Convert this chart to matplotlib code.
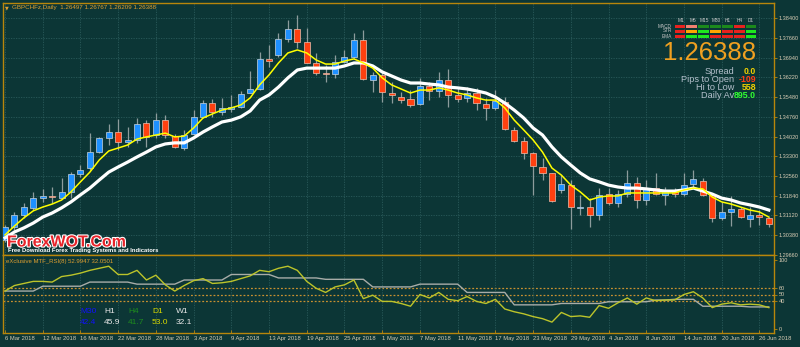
import matplotlib
matplotlib.use("Agg")
import matplotlib.pyplot as plt
import matplotlib.patheffects as pe
from matplotlib.patches import Rectangle
import numpy as np

plt.rcParams['font.family'] = ['Liberation Sans', 'DejaVu Sans']

W, H = 800, 347
BG = '#0c3636'
FRAME = '#b8860b'
GRID = '#2a5a5a'
TXT = '#d8ccb4'
BULL = '#1e90ff'
BEAR = '#ff4010'
EDGE = '#c8d4dc'
WICK = '#8c9c9c'

# daily candles GBPCHF, 6 Mar .. 27 Jun 2018
opens = [1.3020, 1.3068, 1.3113, 1.3139, 1.3175, 1.3183, 1.3175, 1.3198, 1.3264, 1.3286,
         1.3345, 1.3397, 1.3419, 1.3382, 1.3390, 1.3452, 1.3408, 1.3463, 1.3404, 1.3360,
         1.3412, 1.3475, 1.3526, 1.3493, 1.3504, 1.3511, 1.3563, 1.3578, 1.3689, 1.3703,
         1.3763, 1.3799, 1.3751, 1.3674, 1.3637, 1.3633, 1.3678, 1.3696, 1.3759, 1.3611,
         1.3630, 1.3563, 1.3548, 1.3541, 1.3522, 1.3589, 1.3571, 1.3611, 1.3556, 1.3545,
         1.3563, 1.3522, 1.3508, 1.3530, 1.3426, 1.3386, 1.3342, 1.3290, 1.3268, 1.3205,
         1.3223, 1.3139, 1.3142, 1.3113, 1.3190, 1.3157, 1.3190, 1.3231, 1.3168, 1.3212,
         1.3187, 1.3201, 1.3190, 1.3227, 1.3238, 1.3187, 1.3102, 1.3124, 1.3135, 1.3098,
         1.3113, 1.3102]
highs = [1.3076, 1.3124, 1.3157, 1.3198, 1.3209, 1.3216, 1.3249, 1.3271, 1.3297, 1.3415,
         1.3401, 1.3449, 1.3467, 1.3438, 1.3471, 1.3463, 1.3489, 1.3482, 1.3412, 1.3427,
         1.3500, 1.3537, 1.3541, 1.3545, 1.3556, 1.3570, 1.3644, 1.3715, 1.3740, 1.3785,
         1.3833, 1.3851, 1.3803, 1.3711, 1.3667, 1.3704, 1.3722, 1.3785, 1.3796, 1.3641,
         1.3641, 1.3604, 1.3567, 1.3574, 1.3618, 1.3604, 1.3641, 1.3652, 1.3582, 1.3585,
         1.3582, 1.3545, 1.3574, 1.3548, 1.3438, 1.3401, 1.3345, 1.3323, 1.3268, 1.3260,
         1.3242, 1.3187, 1.3175, 1.3212, 1.3212, 1.3205, 1.3279, 1.3253, 1.3242, 1.3268,
         1.3216, 1.3212, 1.3268, 1.3279, 1.3249, 1.3187, 1.3161, 1.3183, 1.3142, 1.3142,
         1.3131, 1.3105]
lows = [1.3013, 1.3057, 1.3102, 1.3131, 1.3161, 1.3157, 1.3172, 1.3175, 1.3253, 1.3279,
        1.3342, 1.3371, 1.3353, 1.3364, 1.3379, 1.3364, 1.3397, 1.3397, 1.3360, 1.3353,
        1.3408, 1.3471, 1.3475, 1.3482, 1.3493, 1.3508, 1.3563, 1.3574, 1.3659, 1.3696,
        1.3751, 1.3729, 1.3674, 1.3630, 1.3604, 1.3619, 1.3674, 1.3692, 1.3611, 1.3567,
        1.3530, 1.3526, 1.3526, 1.3511, 1.3519, 1.3537, 1.3548, 1.3511, 1.3530, 1.3530,
        1.3500, 1.3463, 1.3500, 1.3426, 1.3382, 1.3319, 1.3187, 1.3242, 1.3161, 1.3194,
        1.3061, 1.3113, 1.3068, 1.3094, 1.3150, 1.3142, 1.3179, 1.3139, 1.3150, 1.3187,
        1.3150, 1.3179, 1.3183, 1.3216, 1.3183, 1.3087, 1.3094, 1.3072, 1.3102, 1.3068,
        1.3076, 1.3068]
closes = [1.3068, 1.3113, 1.3142, 1.3175, 1.3183, 1.3179, 1.3198, 1.3264, 1.3279, 1.3345,
          1.3397, 1.3419, 1.3382, 1.3390, 1.3449, 1.3401, 1.3463, 1.3408, 1.3364, 1.3408,
          1.3475, 1.3526, 1.3493, 1.3508, 1.3511, 1.3559, 1.3578, 1.3689, 1.3681, 1.3763,
          1.3799, 1.3751, 1.3674, 1.3637, 1.3633, 1.3678, 1.3696, 1.3759, 1.3615, 1.3630,
          1.3567, 1.3556, 1.3537, 1.3519, 1.3589, 1.3571, 1.3611, 1.3556, 1.3541, 1.3563,
          1.3526, 1.3508, 1.3534, 1.3430, 1.3386, 1.3342, 1.3294, 1.3268, 1.3164, 1.3227,
          1.3142, 1.3142, 1.3113, 1.3187, 1.3157, 1.3190, 1.3231, 1.3168, 1.3212, 1.3190,
          1.3201, 1.3190, 1.3223, 1.3246, 1.3187, 1.3102, 1.3124, 1.3135, 1.3105, 1.3113,
          1.3105, 1.3079]

# moving averages as drawn on the chart
ma_fast = [1.3039, 1.3072, 1.3102, 1.3128, 1.3142, 1.3153, 1.3168, 1.3198, 1.3235, 1.3271,
           1.3316, 1.3349, 1.3360, 1.3371, 1.3393, 1.3401, 1.3408, 1.3415, 1.3401, 1.3404,
           1.3434, 1.3471, 1.3486, 1.3500, 1.3508, 1.3519, 1.3545, 1.3593, 1.3630, 1.3674,
           1.3711, 1.3722, 1.3711, 1.3685, 1.3670, 1.3670, 1.3681, 1.3689, 1.3674, 1.3655,
           1.3619, 1.3593, 1.3578, 1.3563, 1.3574, 1.3574, 1.3582, 1.3574, 1.3563, 1.3556,
           1.3545, 1.3537, 1.3537, 1.3508, 1.3463, 1.3427, 1.3390, 1.3345, 1.3286, 1.3260,
           1.3223, 1.3198, 1.3168, 1.3179, 1.3183, 1.3183, 1.3194, 1.3194, 1.3194, 1.3194,
           1.3194, 1.3194, 1.3205, 1.3212, 1.3209, 1.3179, 1.3161, 1.3153, 1.3142, 1.3131,
           1.3124, 1.3105]
ma_slow = [1.3028, 1.3050, 1.3065, 1.3083, 1.3105, 1.3120, 1.3139, 1.3161, 1.3187, 1.3212,
           1.3242, 1.3271, 1.3290, 1.3308, 1.3327, 1.3345, 1.3364, 1.3375, 1.3379, 1.3379,
           1.3397, 1.3419, 1.3438, 1.3456, 1.3463, 1.3475, 1.3497, 1.3537, 1.3556, 1.3585,
           1.3619, 1.3648, 1.3655, 1.3655, 1.3655, 1.3655, 1.3663, 1.3674, 1.3674, 1.3663,
           1.3641, 1.3626, 1.3611, 1.3600, 1.3600, 1.3596, 1.3593, 1.3585, 1.3582, 1.3578,
           1.3571, 1.3563, 1.3548, 1.3526, 1.3500, 1.3471, 1.3434, 1.3408, 1.3364, 1.3327,
           1.3297, 1.3268, 1.3246, 1.3235, 1.3223, 1.3216, 1.3212, 1.3212, 1.3209, 1.3205,
           1.3201, 1.3201, 1.3205, 1.3212, 1.3201, 1.3190, 1.3175, 1.3168, 1.3157, 1.3150,
           1.3142, 1.3131]

# MTF RSI(8): daily and weekly lines
rsi_d1 = [55, 63, 66, 69, 69, 68, 76, 78, 81, 85,
          88, 91, 79, 79, 85, 71, 78, 64, 55, 63,
          70, 73, 66, 67, 69, 73, 77, 85, 83, 88,
          91, 85, 69, 59, 53, 61, 64, 71, 44, 49,
          40, 40, 37, 33, 50, 45, 53, 43, 41, 47,
          40, 37, 43, 29, 25, 22, 18, 15, 10, 24,
          18, 19, 17, 34, 30, 38, 45, 36, 45, 41,
          42, 42, 50, 54, 45, 31, 36, 38, 35, 36,
          35, 31]
rsi_w1 = [55, 55, 55, 55, 62, 62, 62, 62, 62, 68,
          68, 68, 68, 68, 65, 65, 65, 65, 65, 71,
          71, 71, 71, 71, 79, 79, 79, 79, 79, 74,
          74, 74, 74, 74, 72, 72, 72, 72, 72, 61,
          61, 61, 61, 61, 65, 65, 65, 65, 65, 53,
          53, 53, 53, 53, 35, 35, 35, 35, 35, 37,
          37, 37, 37, 37, 39.5, 39.5, 39.5, 39.5, 39.5, 42,
          42, 43, 43, 43, 33, 33, 33, 33, 33, 32,
          32, 32]
rsi_levels = [60, 50, 40]
rsi_ticks = [0, 40, 50, 60, 100]

date_labels = ['6 Mar 2018', '12 Mar 2018', '16 Mar 2018', '22 Mar 2018', '28 Mar 2018',
               '3 Apr 2018', '9 Apr 2018', '13 Apr 2018', '19 Apr 2018', '25 Apr 2018',
               '1 May 2018', '7 May 2018', '11 May 2018', '17 May 2018', '23 May 2018',
               '29 May 2018', '4 Jun 2018', '8 Jun 2018', '14 Jun 2018', '20 Jun 2018',
               '26 Jun 2018']
date_idx = list(range(0, 81, 4))
price_ticks = [1.38400, 1.37660, 1.36940, 1.36220, 1.35480, 1.34760, 1.34020,
               1.33300, 1.32560, 1.31840, 1.31120, 1.30380, 1.29660]

# dashboard in the top right corner
tf_names = ['M1', 'M5', 'M15', 'M30', 'H1', 'H4', 'D1']
row_names = ['MACD', 'STR', 'EMA']
signal_rows = [['red', 'salmon', 'green', 'green', 'green', 'red', 'green'],
               ['red', 'orange', 'lime', 'orange', 'red', 'red', 'lime'],
               ['red', 'lime', 'lime', 'red', 'red', 'red', 'lime']]
signal_colors = {'red': '#e8221e', 'salmon': '#f08070', 'green': '#1c8a1c',
                 'orange': '#ffa500', 'lime': '#1ee81e'}
last_price = '1.26388'
info_labels = ['Spread', 'Pips to Open', 'Hi to Low', 'Daily Av']
info_values = ['0.0', '-109', '558', '895.0']
info_colors = ['#f0d000', '#ff3c14', '#f0d000', '#32ff32']

mtf_names = ['M30', 'H1', 'H4', 'D1', 'W1']
mtf_values = ['42.4', '45.9', '41.7', '53.0', '32.1']
mtf_colors = ['#1010ff', '#e8e8e8', '#1e8c1e', '#d8d800', '#e8e8e8']


def px_text(xp, yp, s, **kw):
    return fig.text(xp / W, 1 - yp / H, s, **kw)


fig = plt.figure(figsize=(W / 100, H / 100), dpi=100, facecolor=BG)

# pixel mapping of bars: x = 5 + 9.43 * i
x_lo, x_hi = -2 / 9.43, 769 / 9.43

ax = fig.add_axes([3 / W, 1 - 255 / H, 771 / W, 252 / H], facecolor=BG)
ax.set_xlim(x_lo, x_hi)
ax.set_ylim(1.39065 - 0.00036923 * 255, 1.39065 - 0.00036923 * 3)

x = np.arange(len(opens))
o = np.array(opens)
c = np.array(closes)
up = c >= o
body_lo = np.minimum(o, c)
body_h = np.maximum(np.abs(c - o), 0.00012)

ax.vlines(x, lows, highs, color=WICK, lw=0.9, zorder=2)
ax.bar(x[up], body_h[up], bottom=body_lo[up], width=0.64, color=BULL,
       edgecolor=EDGE, linewidth=0.5, zorder=3)
ax.bar(x[~up], body_h[~up], bottom=body_lo[~up], width=0.64, color=BEAR,
       edgecolor='#f0c0b0', linewidth=0.5, zorder=3)
ax.plot(x, ma_slow, color='white', lw=2.3, zorder=4, solid_joinstyle='round')
ax.plot(x, ma_fast, color='#ffff00', lw=1.1, zorder=5)

ax.yaxis.tick_right()
ax.set_yticks(price_ticks)
ax.set_yticklabels([f'{v:.5f}' for v in price_ticks])
ax.set_xticks(date_idx)
ax.tick_params(axis='x', length=0, labelbottom=False)
ax.tick_params(axis='y', colors=FRAME, labelcolor=TXT, labelsize=4, length=2,
               width=0.6, pad=1.5)
ax.grid(True, color=GRID, lw=0.6, linestyle=(0, (1.5, 1.5)), zorder=0)
for sp in ax.spines.values():
    sp.set_color(FRAME)
    sp.set_linewidth(1.0)

# RSI sub window
ax2 = fig.add_axes([3 / W, 1 - 333 / H, 771 / W, 78 / H], facecolor=BG)
ax2.set_xlim(x_lo, x_hi)
ax2.set_ylim((329 - 333) / 0.69, (329 - 255) / 0.69)
for lv in rsi_levels:
    ax2.axhline(lv, color='#c89030', lw=0.9, linestyle=(0, (1.5, 1.5)), zorder=1)
ax2.plot(x, rsi_w1, color='#a8aca8', lw=1.0, zorder=2)
ax2.plot(x, rsi_d1, color='#bcc42a', lw=1.0, zorder=3)
ax2.yaxis.tick_right()
ax2.set_yticks(rsi_ticks)
ax2.set_yticklabels([str(v) for v in rsi_ticks])
ax2.set_xticks(date_idx)
ax2.set_xticklabels(date_labels)
for lbl in ax2.get_xticklabels():
    lbl.set_ha('left')
ax2.tick_params(axis='x', direction='in', colors=FRAME, labelcolor=TXT, labelsize=4.2,
                length=2, width=0.6, pad=2)
ax2.tick_params(axis='y', colors=FRAME, labelcolor=TXT, labelsize=4, length=2,
                width=0.6, pad=1.5)
ax2.grid(True, axis='x', color=GRID, lw=0.6, linestyle=(0, (1.5, 1.5)), zorder=0)
for sp in ax2.spines.values():
    sp.set_color(FRAME)
    sp.set_linewidth(1.0)

# header texts
px_text(5, 7.5, '\u25bc', color='#e0a030', fontsize=3.5, va='center', family='DejaVu Sans')
px_text(12, 7.5, 'GBPCHFz,Daily  1.26497 1.26767 1.26209 1.26388', color='#e0a030',
        fontsize=4.5, va='center')
px_text(6, 261.5, 'eXclusive MTF_RSI(8) 52.9947 32.0501', color='#e0a030',
        fontsize=4.3, va='center')

# watermark
px_text(7, 246.5, 'ForexWOT.Com', color='#e8242a', fontsize=11.5, weight='bold',
        va='baseline', path_effects=[pe.withStroke(linewidth=1.6, foreground='white')])
px_text(8, 250.5, 'Free Download Forex Trading Systems and Indicators', color='white',
        fontsize=4.2, weight='bold', va='center')

# signal dashboard
dash = fig.add_axes([674 / W, 1 - 38.5 / H, 83 / W, 15 / H])
dash.set_xlim(0, len(tf_names))
dash.set_ylim(len(row_names), 0)
dash.axis('off')
for r, row in enumerate(signal_rows):
    for k, name in enumerate(row):
        dash.add_patch(Rectangle((k + 0.05, r + 0.2), 0.9, 0.62,
                                 color=signal_colors[name], lw=0))
for k, name in enumerate(tf_names):
    px_text(675.5 + 11.6 * (k + 0.5), 20.5, name, color='#c8c8c8', fontsize=3.4,
            ha='center', va='center')
for r, name in enumerate(row_names):
    px_text(672, 26 + 5 * r, name, color='#c8c8c8', fontsize=3.4, ha='right', va='center')

px_text(756, 60.5, last_price, color='#f0a020', fontsize=18.5, ha='right', va='baseline')
for k, (lab, val, col) in enumerate(zip(info_labels, info_values, info_colors)):
    yk = 71 + 8.2 * k
    px_text(734, yk, lab, color='#b4c0cc', fontsize=6.6, ha='right', va='center')
    px_text(756, yk, val, color=col, fontsize=6.3, ha='right', va='center', weight='bold')

# MTF RSI readings
for k, (name, val, col) in enumerate(zip(mtf_names, mtf_values, mtf_colors)):
    xk = 80 + 24 * k
    px_text(xk, 311.5, name, color=col, fontsize=6, va='center')
    px_text(xk, 322, val, color=col, fontsize=6, va='center')

fig.savefig('out.png', dpi=100, facecolor=BG)
